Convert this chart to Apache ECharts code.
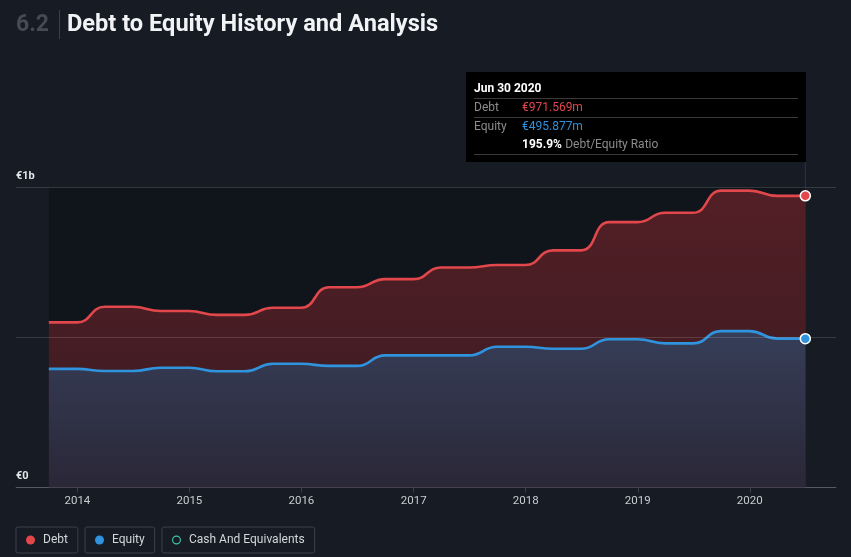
<!DOCTYPE html>
<html><head><meta charset="utf-8">
<script src="https://cdn.jsdelivr.net/npm/echarts@6/dist/echarts.min.js"></script>
<style>html,body{margin:0;padding:0;background:#161b24;}#c{width:851px;height:557px;}</style>
</head><body><div id="c"></div>
<script>
// ---- data (values in € millions) ----
const dates = ['2013-09-30','2013-12-31','2014-03-31','2014-06-30','2014-09-30','2014-12-31','2015-03-31','2015-06-30','2015-09-30','2015-12-31','2016-03-31','2016-06-30','2016-09-30','2016-12-31','2017-03-31','2017-06-30','2017-09-30','2017-12-31','2018-03-31','2018-06-30','2018-09-30','2018-12-31','2019-03-31','2019-06-30','2019-09-30','2019-12-31','2020-03-31','2020-06-30'];
const debt = [550,550,602,602,588,588,575,575,599,599,667,667,694,694,733,733,741,741,790,790,884,884,915,915,989,989,971.569,971.569];
const equity = [395,395,388,388,399,399,387,387,412,412,405,405,440,440,440,440,469,469,462,462,494,494,480,480,521,521,495.877,495.877];
const cash = [];
const yLabels = {0:'€0', 1000:'€1b'};
const seriesNames = ['Debt','Equity','Cash And Equivalents'];
const titleNum = '6.2';
const titleText = 'Debt to Equity History and Analysis';

const FONT = 'Roboto, "Noto Sans", sans-serif';
const chart = echarts.init(document.getElementById('c'), null, {renderer:'canvas'});
const last = dates.length - 1;
const pair = arr => dates.map((d,i)=>[d, arr[i]]);
const ringIcon = 'path://M10,0A10,10,0,1,1,9.99,0ZM10,2.6A7.4,7.4,0,1,0,10.01,2.6Z';

const legendCommon = {
  top: 527, itemWidth: 9, itemHeight: 9, itemGap: 0,
  padding: [7, 10, 7, 10], borderColor: '#3a404b', borderWidth: 1, borderRadius: 2,
  selectedMode: false,
  textStyle: {color:'#d3d6db', fontSize: 12, fontFamily: FONT, padding:[0,0,0,3]}
};
const endDot = (arr, color) => ({
  symbol: 'circle', symbolSize: 10, silent: true,
  itemStyle: {color, borderColor: '#ffffff', borderWidth: 1.5},
  label: {show: false},
  data: [{coord: [dates[last], arr[last]]}]
});

chart.setOption({
  backgroundColor: '#161b24',
  animation: false,
  grid: {left: 16, right: 15, top: 187.3, bottom: 69.5, containLabel: false},
  xAxis: {
    type: 'time',
    min: '2013-06-15', max: '2020-10-08',
    splitNumber: 7,
    minInterval: 365*24*3600*1000,
    axisLine: {show: true, lineStyle: {color:'#3b4049', width: 1}},
    axisTick: {show: true, length: 5, lineStyle: {color:'#3b4049'}},
    splitLine: {show: false},
    axisLabel: {
      color:'#c9ccd1', fontSize: 11.5, fontFamily: FONT, margin: 8,
      formatter: v => { const d = new Date(v); return (d.getMonth()===0 && d.getDate()===1) ? String(d.getFullYear()) : ''; }
    }
  },
  yAxis: {
    type: 'value', min: 0, max: 1000, interval: 500, z: 5,
    axisLine: {show: false}, axisTick: {show: false},
    splitLine: {show: true, lineStyle: {color:'rgba(255,255,255,0.14)', width: 1}},
    axisLabel: {
      inside: true, margin: 0, align: 'left', verticalAlign: 'bottom', padding: [0,0,6,0],
      color:'#e4e6ea', fontSize: 11, fontWeight: 'bold', fontFamily: FONT,
      formatter: v => yLabels[v] !== undefined ? yLabels[v] : ''
    }
  },
  legend: [
    Object.assign({left: 16, data: [{name: seriesNames[0], icon: 'circle', itemStyle: {color:'#e1474b', borderWidth: 0}}]}, legendCommon),
    Object.assign({left: 85, data: [{name: seriesNames[1], icon: 'circle', itemStyle: {color:'#2f93dd', borderWidth: 0}}]}, legendCommon),
    Object.assign({left: 162, data: [{name: seriesNames[2], icon: ringIcon, itemStyle: {color: '#3fc1a6', borderWidth: 0}}]}, legendCommon)
  ],
  series: [
    {
      name: 'bg', type: 'line', data: pair(debt), z: 1, silent: true,
      symbol: 'none', lineStyle: {opacity: 0},
      markArea: {silent: true, itemStyle: {color: '#10141b'},
        data: [[{xAxis: dates[0]}, {xAxis: dates[last]}]]}
    },
    {
      name: seriesNames[0], type: 'line', data: pair(debt), z: 2, clip: false,
      smooth: true, symbol: 'none', showSymbol: false,
      lineStyle: {color:'#e1474b', width: 2.6},
      itemStyle: {color:'#e1474b'},
      areaStyle: {opacity: 1, color: new echarts.graphic.LinearGradient(0,0,0,1,[
        {offset:0, color:'#521f25'}, {offset:1, color:'#3a1b22'}])},
      markPoint: endDot(debt, '#e1474b')
    },
    {
      name: seriesNames[1], type: 'line', data: pair(equity), z: 3, clip: false,
      smooth: true, symbol: 'none', showSymbol: false,
      lineStyle: {color:'#2f93dd', width: 2.6},
      itemStyle: {color:'#2f93dd'},
      areaStyle: {opacity: 1, color: new echarts.graphic.LinearGradient(0,0,0,1,[
        {offset:0, color:'#363e58'}, {offset:1, color:'#2a2737'}])},
      markPoint: endDot(equity, '#2f93dd')
    },
    {
      name: seriesNames[2], type: 'line', data: cash,
      itemStyle: {color:'#3fc1a6'}, lineStyle: {color:'#3fc1a6'}
    }
  ]
});

// tooltip-like panel built from the last data point
const months = ['Jan','Feb','Mar','Apr','May','Jun','Jul','Aug','Sep','Oct','Nov','Dec'];
const [yy, mm, dd] = dates[last].split('-');
const dateLabel = months[+mm-1] + ' ' + (+dd) + ' ' + yy;
const fmt = v => '€' + v.toFixed(3) + 'm';
const ratio = (debt[last] / equity[last] * 100).toFixed(1) + '%';
const px = chart.convertToPixel({xAxisIndex: 0}, dates[last]);
const py0 = chart.convertToPixel({yAxisIndex: 0}, 0);

const bx = 466, by = 72, bw = 340, bh = 90;
const tx = bx + 8, vx = bx + 56;
const txt = (x, y, text, fill, weight) => ({type:'text', x, y, silent:true,
  style:{text, fill, font: (weight||'normal') + ' 12px ' + FONT, verticalAlign:'middle', align:'left'}});
const hl = y => ({type:'line', silent:true, shape:{x1:tx, y1:y, x2:bx+bw-8, y2:y}, style:{stroke:'#3a3a3a', lineWidth:1}});

chart.setOption({
  graphic: [
    {type:'text', x:16, y:25, style:{text:titleNum, fill:'#454b55', font:'bold 23px ' + FONT, verticalAlign:'middle'}},
    {type:'line', shape:{x1:59.5, y1:10, x2:59.5, y2:39}, style:{stroke:'#3a3f48', lineWidth:1}},
    {type:'text', x:67, y:25, style:{text:titleText, fill:'#f2f3f5', font:'bold 23.6px ' + FONT, verticalAlign:'middle'}},
    {type:'line', silent:true, z:0, shape:{x1:px, y1:by+bh, x2:px, y2:py0}, style:{stroke:'#24355a', lineWidth:1}},
    {type:'rect', silent:true, z:10, shape:{x:bx, y:by, width:bw, height:bh}, style:{fill:'#000000'}},
    Object.assign(txt(tx, by+17, dateLabel, '#ffffff', 'bold'), {z:11}),
    Object.assign(hl(by+26.5), {z:11}),
    Object.assign(txt(tx, by+35.5, seriesNames[0], '#8c8c8c'), {z:11}),
    Object.assign(txt(vx, by+35.5, fmt(debt[last]), '#e0474c'), {z:11}),
    Object.assign(hl(by+45.5), {z:11}),
    Object.assign(txt(tx, by+54.5, seriesNames[1], '#8c8c8c'), {z:11}),
    Object.assign(txt(vx, by+54.5, fmt(equity[last]), '#2f91db'), {z:11}),
    {type:'text', x:vx, y:by+72.5, z:11, silent:true, style:{text:'{b|' + ratio + '} {g|Debt/Equity Ratio}', verticalAlign:'middle',
      rich:{b:{fill:'#ffffff', font:'bold 12px ' + FONT}, g:{fill:'#8c8c8c', font:'12px ' + FONT}}}},
    Object.assign(hl(by+82.5), {z:11})
  ]
});
</script>
</body></html>
